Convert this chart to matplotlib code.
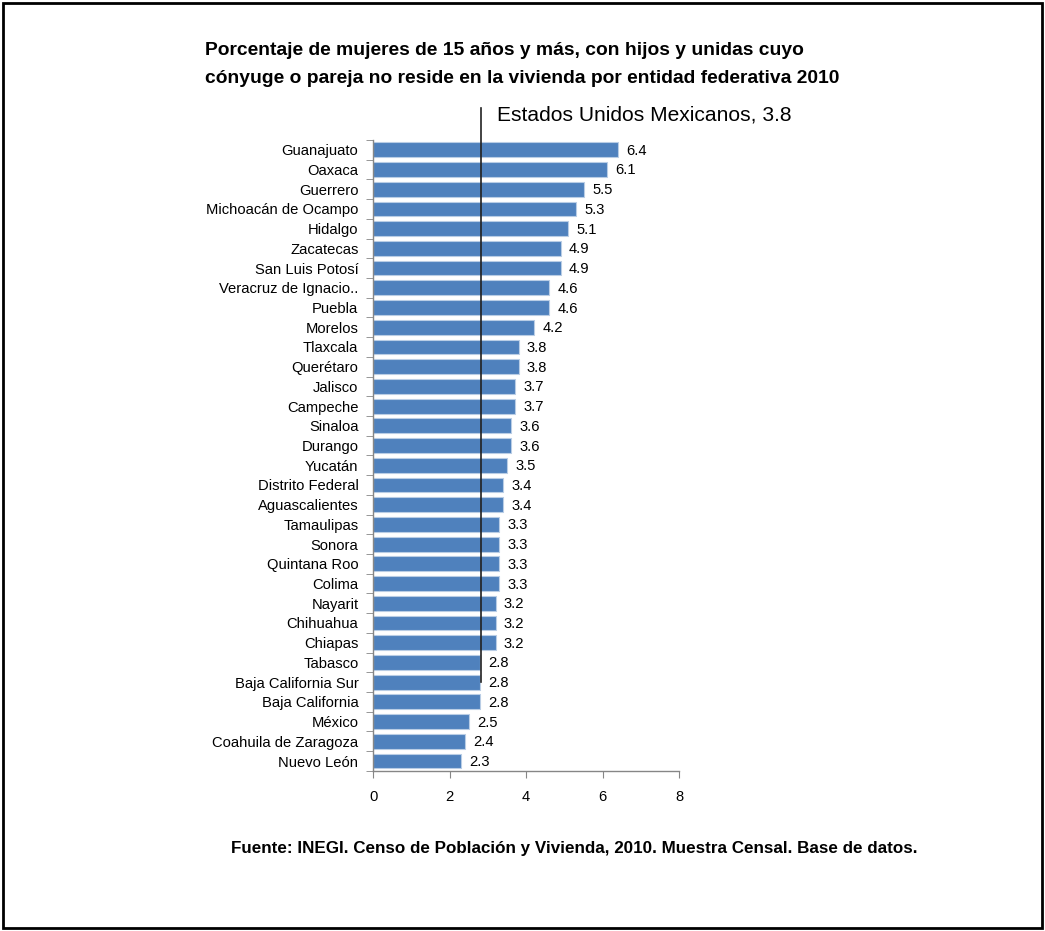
import matplotlib
matplotlib.use('Agg')
import matplotlib.pyplot as plt
from matplotlib.patches import Rectangle

plt.rcParams['font.family'] = ['Liberation Sans', 'DejaVu Sans']

estados = ['Guanajuato', 'Oaxaca', 'Guerrero', 'Michoacán de Ocampo', 'Hidalgo',
           'Zacatecas', 'San Luis Potosí', 'Veracruz de Ignacio..', 'Puebla', 'Morelos',
           'Tlaxcala', 'Querétaro', 'Jalisco', 'Campeche', 'Sinaloa', 'Durango',
           'Yucatán', 'Distrito Federal', 'Aguascalientes', 'Tamaulipas', 'Sonora',
           'Quintana Roo', 'Colima', 'Nayarit', 'Chihuahua', 'Chiapas', 'Tabasco',
           'Baja California Sur', 'Baja California', 'México', 'Coahuila de Zaragoza',
           'Nuevo León']
valores = [6.4, 6.1, 5.5, 5.3, 5.1, 4.9, 4.9, 4.6, 4.6, 4.2, 3.8, 3.8, 3.7, 3.7,
           3.6, 3.6, 3.5, 3.4, 3.4, 3.3, 3.3, 3.3, 3.3, 3.2, 3.2, 3.2, 2.8, 2.8,
           2.8, 2.5, 2.4, 2.3]
nacional_label = 'Estados Unidos Mexicanos, 3.8'
linea_x = 2.82  # where the reference line is actually drawn
xticks = [0, 2, 4, 6, 8]

fig = plt.figure(figsize=(10.45, 9.31), dpi=100)
ax = fig.add_axes([0.357, 0.172, 0.293, 0.6777])

y = list(range(len(estados)))
ax.barh(y, valores, height=0.75, color='#4F81BD', edgecolor='#B9CDE5', linewidth=0.8)
ax.set_ylim(len(estados) - 0.5, -0.5)
ax.set_xlim(0, 8)
ax.set_xticks(xticks)
ax.set_xticklabels([str(t) for t in xticks], fontsize=10.6)

ax.set_yticks(y)
ax.set_yticklabels(estados, fontsize=10.6)
ax.tick_params(axis='y', length=0, pad=10.5)
# category boundary ticks
ax.set_yticks([i - 0.5 for i in range(len(estados) + 1)], minor=True)
ax.tick_params(axis='y', which='minor', length=5, color='#868686', direction='out')
ax.tick_params(axis='x', length=5, color='#868686', direction='out', pad=9)

for s in ['top', 'right']:
    ax.spines[s].set_visible(False)
for s in ['left', 'bottom']:
    ax.spines[s].set_color('#868686')
    ax.spines[s].set_linewidth(1)

for i, v in enumerate(valores):
    ax.text(v + 0.22, i + 0.05, f'{v:.1f}', va='center', ha='left', fontsize=10.6)

ax.plot([linea_x, linea_x], [-2.1, 27], color='#222222', linewidth=1.2, clip_on=False)
ax.text(3.25, -1.75, nacional_label, fontsize=15.1, ha='left', va='center')

fig.text(0.196, 0.946, 'Porcentaje de mujeres de 15 años y más, con hijos y unidas cuyo',
         fontsize=13.85, fontweight='bold', ha='left', va='center')
fig.text(0.196, 0.916, 'cónyuge o pareja no reside en la vivienda por entidad federativa 2010',
         fontsize=13.85, fontweight='bold', ha='left', va='center')
fig.text(0.221, 0.089, 'Fuente: INEGI. Censo de Población y Vivienda, 2010. Muestra Censal. Base de datos.',
         fontsize=12.25, fontweight='bold', ha='left', va='center')

fig.patches.append(Rectangle((0.003, 0.003), 0.994, 0.994, transform=fig.transFigure,
                             fill=False, edgecolor='black', linewidth=2))

fig.savefig('out.png', dpi=100)
